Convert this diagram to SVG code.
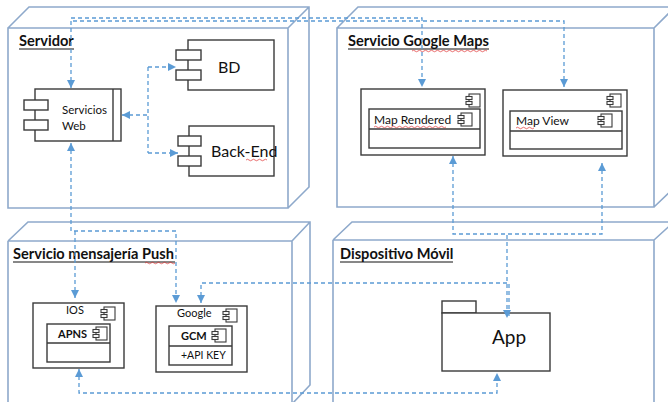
<svg xmlns="http://www.w3.org/2000/svg" width="668" height="402" viewBox="0 0 668 402">
<style>
.box{fill:none;stroke:#8EA9CB;stroke-width:1.6}
.cmp{fill:#fff;stroke:#3a3a3a;stroke-width:1.4}
.t{font-family:Lato,"Liberation Sans",sans-serif;fill:#111}
.ttl{font-family:Lato,"Liberation Sans",sans-serif;font-weight:bold;font-size:14.6px;fill:#111}
.ul{stroke:#111;stroke-width:1}
.sq{fill:none;stroke:#e03030;stroke-width:0.7}
.c{fill:none;stroke:#5B9BD5;stroke-width:1.3;stroke-dasharray:4 3}
</style>
<defs>
<marker id="ar" viewBox="0 0 10 10" refX="10" refY="5" markerWidth="8" markerHeight="8" markerUnits="userSpaceOnUse" orient="auto-start-reverse">
<path d="M0,0 L10,5 L0,10 z" fill="#5B9BD5"/>
</marker>
<g id="ci">
<rect x="3" y="0" width="11" height="13" fill="#fff" stroke="#3a3a3a" stroke-width="1.1"/>
<rect x="0" y="2.5" width="6" height="3" fill="#fff" stroke="#3a3a3a" stroke-width="1.1"/>
<rect x="0" y="7.5" width="6" height="3" fill="#fff" stroke="#3a3a3a" stroke-width="1.1"/>
</g>
</defs>
<rect width="668" height="402" fill="#fff"/>

<g id="servidor">
<path class="box" d="M8,28 H288 V208 H8 Z M8,28 L29,7 H309 V187 L288,208 M288,28 L309,7"/>
<text class="ttl" x="19" y="46">Servidor</text>
<line class="ul" x1="19" y1="49" x2="74" y2="49"/>
</g>

<g id="servicios-web">
<rect class="cmp" x="35" y="89" width="86" height="52"/>
<line class="cmp" x1="113" y1="89" x2="113" y2="141"/>
<rect class="cmp" x="24" y="100" width="24" height="10"/>
<rect class="cmp" x="24" y="120" width="24" height="10"/>
<text class="t" x="62" y="114" font-size="11.5">Servicios</text>
<text class="t" x="62" y="130" font-size="11.5">Web</text>
</g>

<g id="bd">
<rect class="cmp" x="188" y="40" width="86" height="50"/>
<rect class="cmp" x="176" y="50" width="25" height="10"/>
<rect class="cmp" x="176" y="70" width="25" height="10"/>
<text class="t" x="218" y="73" font-size="16">BD</text>
</g>

<g id="back-end">
<rect class="cmp" x="189" y="126" width="85" height="50"/>
<rect class="cmp" x="178" y="136" width="23" height="10"/>
<rect class="cmp" x="178" y="156" width="23" height="10"/>
<text class="t" x="211" y="157" font-size="16">Back-End</text>
<path class="sq" d="M246,160 q1.5,-1.5 3,0 t3,0 t3,0 t3,0 t3,0 t3,0 t3,0"/>
</g>

<g id="google-maps">
<path class="box" d="M337,28 H654 V207 H337 Z M337,28 L358,7 H676 M654,28 L676,6 M654,207 L676,186"/>
<text class="ttl" x="348" y="46">Servicio Google Maps</text>
<line class="ul" x1="348" y1="49" x2="489" y2="49"/>
<path class="sq" d="M412,51 q1.5,-1.5 3,0 t3,0 t3,0 t3,0 t3,0 t3,0 t3,0 t3,0 t3,0 t3,0 t3,0 t3,0 t3,0 t3,0 t3,0 t3,0 t3,0 t3,0 t3,0 t3,0 t3,0 t3,0 t3,0 t3,0 t3,0"/>
</g>

<g id="map-rendered">
<rect class="cmp" x="361" y="89" width="124" height="66"/>
<use href="#ci" x="466" y="94"/>
<rect class="cmp" x="369" y="109" width="111" height="39"/>
<line class="cmp" x1="369" y1="129" x2="480" y2="129"/>
<text class="t" x="374" y="124" font-size="12">Map Rendered</text>
<use href="#ci" x="458" y="113"/>
<path class="sq" d="M374,127 q1.5,-1.5 3,0 t3,0 t3,0 t3,0 t3,0 t3,0 t3,0 t3,0 t3,0 t3,0 t3,0 t3,0 t3,0 t3,0 t3,0 t3,0 t3,0 t3,0 t3,0 t3,0 t3,0 t3,0 t3,0 t3,0"/>
</g>

<g id="map-view">
<rect class="cmp" x="503" y="90" width="124" height="66"/>
<use href="#ci" x="607" y="94"/>
<rect class="cmp" x="510" y="111" width="112" height="38"/>
<line class="cmp" x1="510" y1="131" x2="622" y2="131"/>
<text class="t" x="516" y="125" font-size="12">Map View</text>
<use href="#ci" x="598" y="114"/>
<path class="sq" d="M516,128 q1.5,-1.5 3,0 t3,0 t3,0 t3,0 t3,0 t3,0"/>
</g>

<g id="push">
<path class="box" d="M8,241 H292 V404 M8,241 V404 M8,241 L28,222 H310 V385 L292,404 M292,241 L310,222"/>
<text class="ttl" x="13" y="259">Servicio mensajería Push</text>
<line class="ul" x1="13" y1="262" x2="175" y2="262"/>
<path class="sq" d="M145,263 q1.5,-1.5 3,0 t3,0 t3,0 t3,0 t3,0 t3,0 t3,0 t3,0 t3,0 t3,0"/>
</g>

<g id="ios">
<rect class="cmp" x="33" y="303" width="91" height="65"/>
<text class="t" x="66" y="314" font-size="11">IOS</text>
<use href="#ci" x="101" y="307"/>
<rect class="cmp" x="47" y="324" width="63" height="38"/>
<line class="cmp" x1="47" y1="343" x2="110" y2="343"/>
<text class="t" x="58" y="338" font-size="11" font-weight="bold">APNS</text>
<use href="#ci" x="93" y="327"/>
</g>

<g id="google">
<rect class="cmp" x="156" y="306" width="91" height="66"/>
<text class="t" x="177" y="317" font-size="11">Google</text>
<use href="#ci" x="223" y="309"/>
<rect class="cmp" x="169" y="326" width="63" height="39"/>
<line class="cmp" x1="169" y1="346" x2="232" y2="346"/>
<text class="t" x="181" y="340" font-size="11" font-weight="bold">GCM</text>
<use href="#ci" x="212" y="329"/>
<text class="t" x="181" y="359" font-size="10.5">+API KEY</text>
</g>

<g id="dispositivo">
<path class="box" d="M333,240 H654 V404 M333,240 V404 M333,240 L352,222 H676 M654,240 L676,220"/>
<text class="ttl" x="340" y="259">Dispositivo Móvil</text>
<line class="ul" x1="340" y1="262" x2="453" y2="262"/>
</g>

<g id="app">
<rect class="cmp" x="442" y="301" width="34" height="12"/>
<rect class="cmp" x="442" y="313" width="108" height="58"/>
<text class="t" x="492" y="344" font-size="19">App</text>
</g>

<g id="connectors">
<path class="c" d="M71,143 V231 H176 V303" marker-start="url(#ar)" marker-end="url(#ar)"/>
<path class="c" d="M75,231 V298" marker-end="url(#ar)"/>
<path class="c" d="M71,88 V18 H422 V87" marker-start="url(#ar)" marker-end="url(#ar)"/>
<path class="c" d="M73,21 H564 V87" marker-end="url(#ar)"/>
<path class="c" d="M122,115 H148" marker-start="url(#ar)"/>
<path class="c" d="M148,67 V153"/>
<path class="c" d="M148,67 H176" marker-end="url(#ar)"/>
<path class="c" d="M148,153 H178" marker-end="url(#ar)"/>
<path class="c" d="M453,156 V234 H507 V318" marker-start="url(#ar)" marker-end="url(#ar)"/>
<path class="c" d="M602,163 V234 H507" marker-start="url(#ar)"/>
<path class="c" d="M201,303 V283 H509 V318" marker-start="url(#ar)"/>
<path class="c" d="M79,369 V393 H497 V373" marker-start="url(#ar)" marker-end="url(#ar)"/>
</g>
</svg>
